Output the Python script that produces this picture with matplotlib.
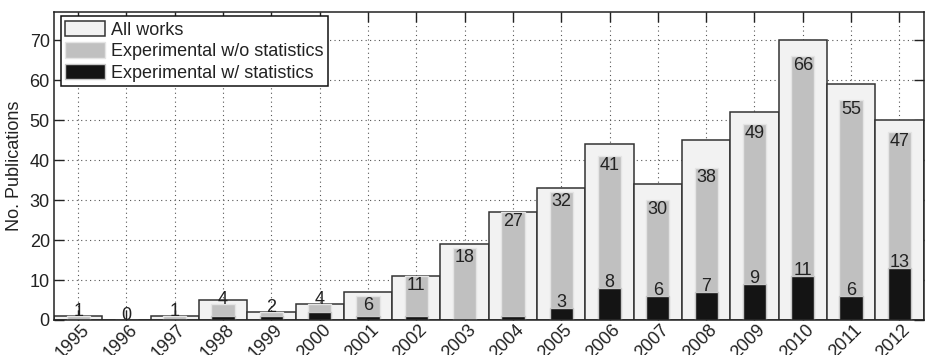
import matplotlib
matplotlib.use("Agg")
import matplotlib.pyplot as plt
import matplotlib.transforms as mtransforms
import numpy as np

plt.rcParams['font.family'] = ['Liberation Sans', 'DejaVu Sans']

years = ['1995', '1996', '1997', '1998', '1999', '2000', '2001', '2002', '2003',
         '2004', '2005', '2006', '2007', '2008', '2009', '2010', '2011', '2012']
all_works = [1, 0, 1, 5, 2, 4, 7, 11, 19, 27, 33, 44, 34, 45, 52, 70, 59, 50]
wo_stats = [1, 0, 1, 4, 2, 4, 6, 11, 18, 27, 32, 41, 30, 38, 49, 66, 55, 47]
w_stats = [0, 0, 0, 1, 1, 2, 1, 1, 0, 1, 3, 8, 6, 7, 9, 11, 6, 13]

x = np.arange(len(years))
txt = '#222222'

fig = plt.figure(figsize=(9.25, 3.55), dpi=100)
ax = fig.add_axes([0.0584, 0.0986, 0.94, 0.8674])

ax.bar(x, all_works, width=1.0, color='#f2f2f2', edgecolor='#333333',
       linewidth=1.1, label='All works', zorder=2)
ax.bar(x, wo_stats, width=0.48, color='#c0c0c0', edgecolor='#e4e4e4',
       linewidth=1.0, label='Experimental w/o statistics', zorder=3)
ax.bar(x, w_stats, width=0.48, color='#141414', edgecolor='#c8c8c8',
       linewidth=1.0, label='Experimental w/ statistics', zorder=4)

for xi, v in zip(x, wo_stats):
    if v > 5:
        ax.text(xi, v - 0.15, str(v), ha='center', va='top', fontsize=13,
                color=txt, zorder=6)
    else:
        ax.text(xi, v + 0.05, str(v), ha='center', va='baseline', fontsize=13,
                color=txt, zorder=6)
for xi, v in zip(x, w_stats):
    if v >= 3:
        ax.text(xi, v + 0.35, str(v), ha='center', va='baseline', fontsize=13,
                color=txt, zorder=6)

ax.set_xlim(-0.5, len(years) - 0.5)
ax.set_ylim(0, 77)
ax.set_yticks(np.arange(0, 71, 10))
ax.set_xticks(x)
ax.tick_params(axis='y', labelsize=13, labelcolor=txt, pad=3)
ax.tick_params(axis='x', pad=5.5)
ax.tick_params(direction='in', length=7, width=1, color='#222222',
               top=True, right=True)
ax.set_xticklabels(years, rotation=45, ha='right', va='center',
                   rotation_mode='anchor', fontsize=13, color=txt)
offset = mtransforms.ScaledTranslation(8.4 / 100, 0, fig.dpi_scale_trans)
for lab in ax.get_xticklabels():
    lab.set_transform(lab.get_transform() + offset)
ax.set_ylabel('No. Publications', fontsize=13, color=txt, labelpad=4.5)

ax.grid(True, linestyle=(0, (1, 3)), color='#555555', linewidth=0.8, zorder=0)
ax.set_axisbelow(True)
for s in ax.spines.values():
    s.set_color('#222222')
    s.set_linewidth(1.1)
    s.set_zorder(5)

leg = ax.legend(loc='upper left', bbox_to_anchor=(0.008, 0.987),
                fontsize=13, frameon=True, fancybox=False,
                framealpha=1, edgecolor='#111111', borderpad=0.25,
                labelspacing=0.2, handlelength=2.2, handleheight=0.95,
                handletextpad=0.3, borderaxespad=0.0)
leg.get_frame().set_linewidth(1.1)
for t in leg.get_texts():
    t.set_color(txt)

fig.savefig('out.png', dpi=100)
